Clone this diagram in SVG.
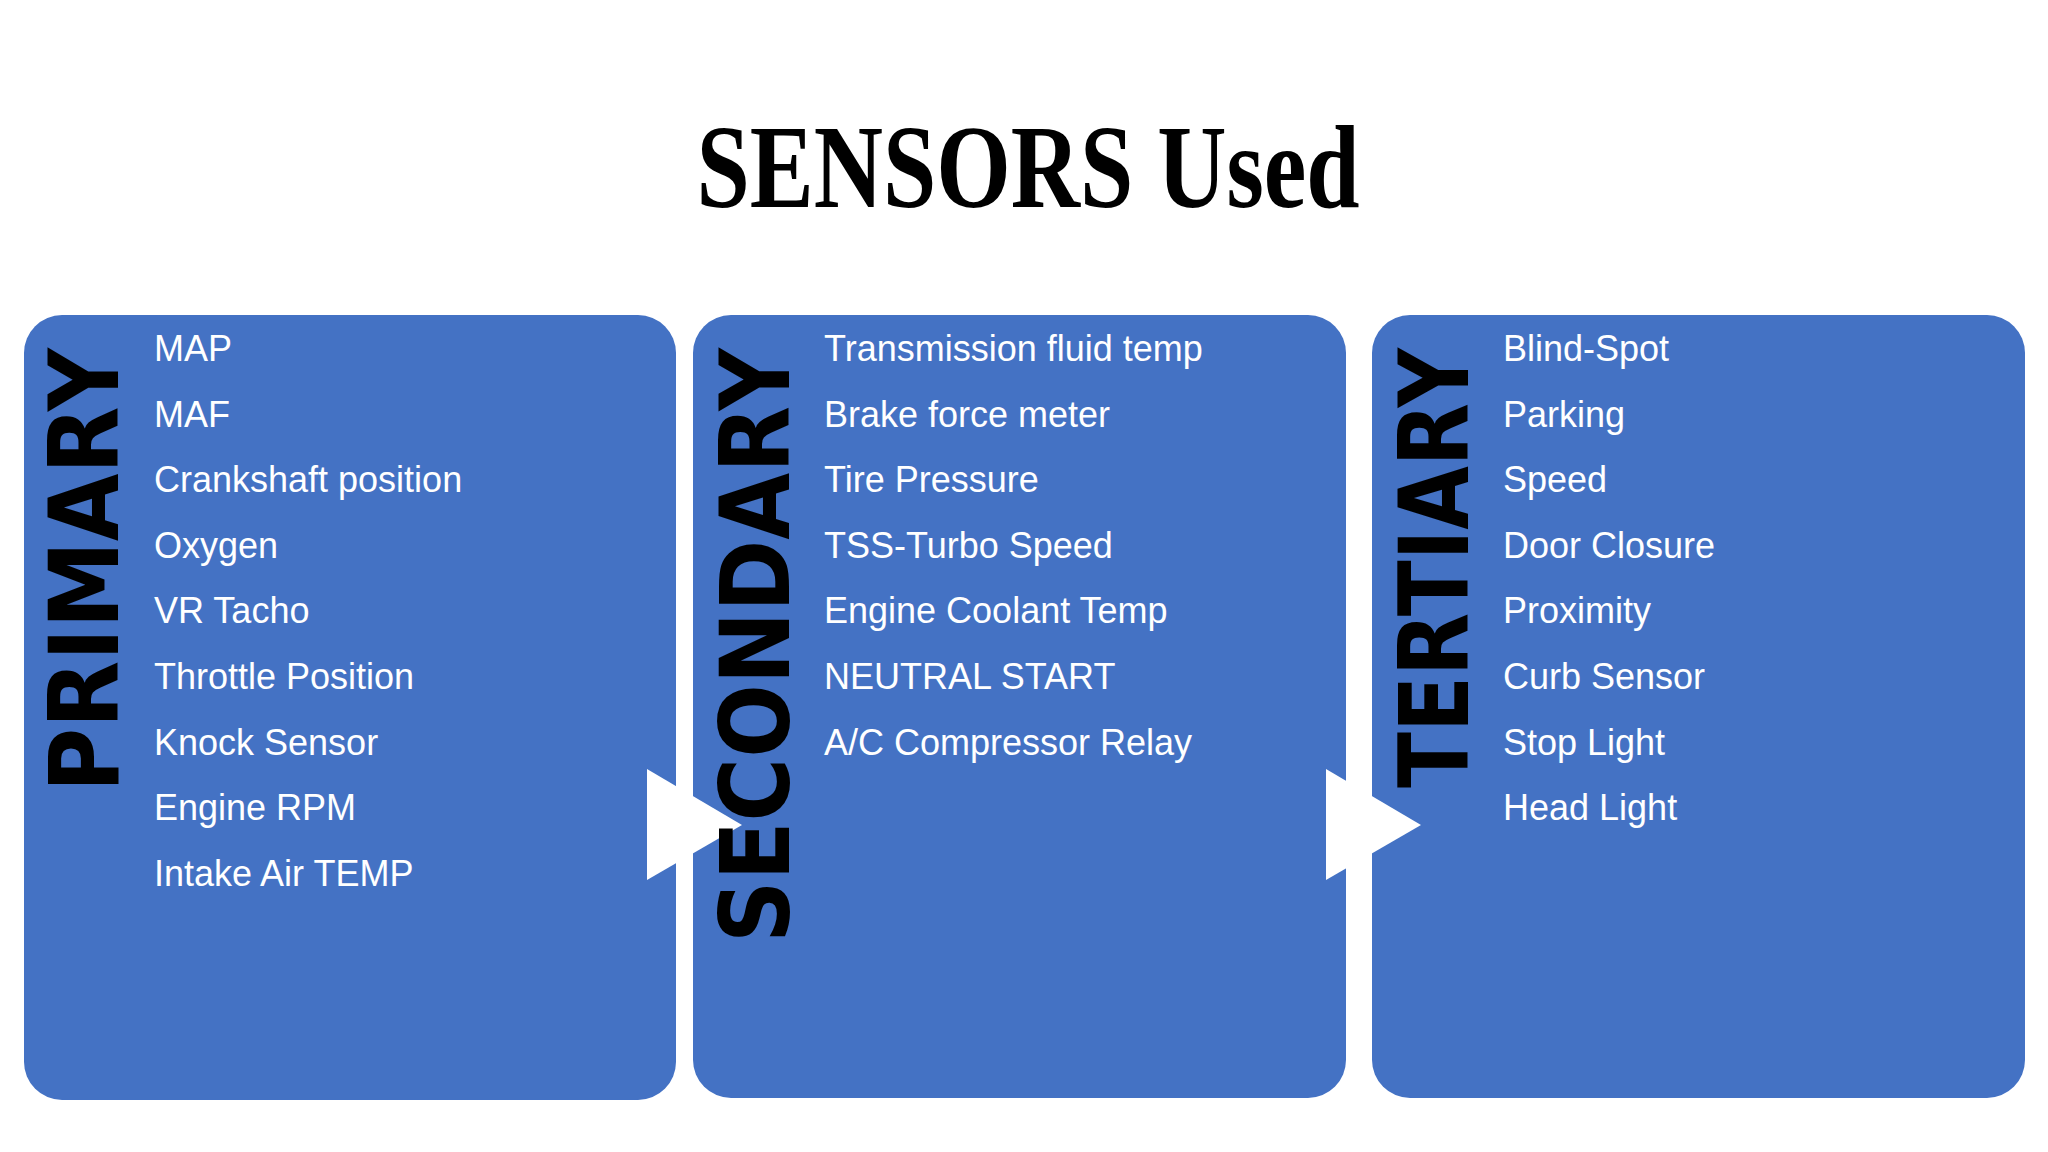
<svg xmlns="http://www.w3.org/2000/svg" width="2048" height="1152" viewBox="0 0 2048 1152">
<style>
.box{fill:#4472C4}
.arr{fill:#fff}
.it{font-family:"Liberation Sans",Arial,sans-serif;font-size:36px;fill:#fff}
.vl{font-family:"DejaVu Sans","Liberation Sans",sans-serif;font-weight:900;font-size:96px;fill:#000;text-anchor:end}
.ti{font-family:"Liberation Serif",serif;font-weight:bold;font-size:118px;fill:#000;text-anchor:middle}
</style>
<rect width="2048" height="1152" fill="#fff"/>
<text class="ti" x="1028" y="207" textLength="663" lengthAdjust="spacingAndGlyphs">SENSORS Used</text>
<g id="primary">
<rect class="box" x="24" y="315" width="652" height="785" rx="38"/>
</g>
<g id="secondary">
<rect class="box" x="693" y="315" width="653" height="783" rx="38"/>
</g>
<g id="tertiary">
<rect class="box" x="1372" y="315" width="653" height="783" rx="38"/>
</g>
<g id="connectors">
<polygon class="arr" points="647,769 647,880 742,825"/>
<polygon class="arr" points="1326,769 1326,880 1421,825"/>
</g>
<g id="labels">
<text class="vl" transform="translate(118,348) rotate(-90)" textLength="444" lengthAdjust="spacingAndGlyphs">PRIMARY</text>
<text class="vl" transform="translate(789,348) rotate(-90)" textLength="595" lengthAdjust="spacingAndGlyphs">SECONDARY</text>
<text class="vl" transform="translate(1468,348) rotate(-90)" textLength="440" lengthAdjust="spacingAndGlyphs">TERTIARY</text>
</g>
<g id="items1" class="it">
<text class="it" x="154" y="361">MAP</text>
<text class="it" x="154" y="427">MAF</text>
<text class="it" x="154" y="492">Crankshaft position</text>
<text class="it" x="154" y="558">Oxygen</text>
<text class="it" x="154" y="623">VR Tacho</text>
<text class="it" x="154" y="689">Throttle Position</text>
<text class="it" x="154" y="755">Knock Sensor</text>
<text class="it" x="154" y="820">Engine RPM</text>
<text class="it" x="154" y="886">Intake Air TEMP</text>
</g>
<g id="items2">
<text class="it" x="824" y="361">Transmission fluid temp</text>
<text class="it" x="824" y="427">Brake force meter</text>
<text class="it" x="824" y="492">Tire Pressure</text>
<text class="it" x="824" y="558">TSS-Turbo Speed</text>
<text class="it" x="824" y="623">Engine Coolant Temp</text>
<text class="it" x="824" y="689">NEUTRAL START</text>
<text class="it" x="824" y="755">A/C Compressor Relay</text>
</g>
<g id="items3">
<text class="it" x="1503" y="361">Blind-Spot</text>
<text class="it" x="1503" y="427">Parking</text>
<text class="it" x="1503" y="492">Speed</text>
<text class="it" x="1503" y="558">Door Closure</text>
<text class="it" x="1503" y="623">Proximity</text>
<text class="it" x="1503" y="689">Curb Sensor</text>
<text class="it" x="1503" y="755">Stop Light</text>
<text class="it" x="1503" y="820">Head Light</text>
</g>
</svg>
